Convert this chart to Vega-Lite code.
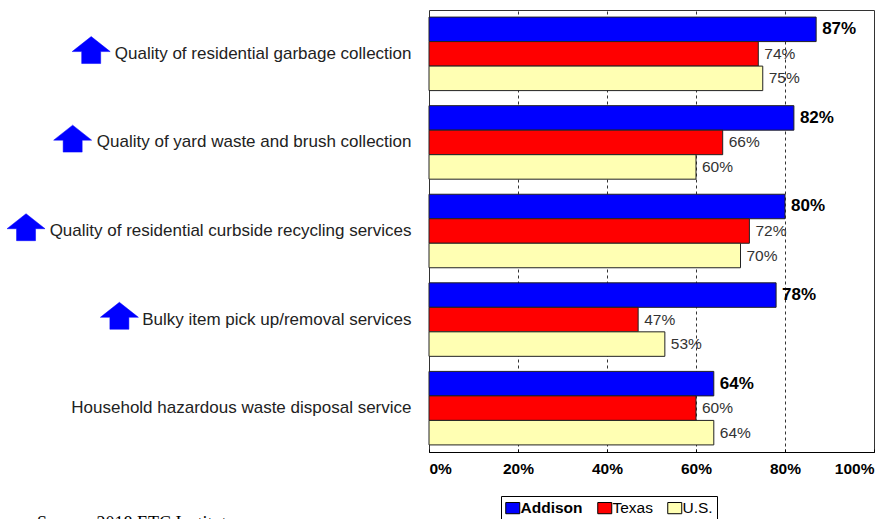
{
  "$schema": "https://vega.github.io/schema/vega-lite/v6.json",
  "width": 445,
  "height": 442,
  "autosize": {"type": "none"},
  "padding": {"left": 429, "top": 10, "right": 21, "bottom": 67},
  "background": "white",
  "config": {
    "font": "Liberation Sans",
    "view": {"stroke": "#333", "strokeWidth": 1}
  },
  "title": {
    "text": "Source:  2018 ETC Institute",
    "orient": "bottom",
    "anchor": "start",
    "frame": "group",
    "font": "Liberation Serif",
    "fontSize": 18,
    "fontWeight": "normal",
    "color": "#000",
    "dx": -392,
    "offset": 0,
    "dy": -7
  },
  "data": {
    "values": [
      {"item": "Quality of residential garbage collection", "series": "Addison", "value": 0.87, "improved": true},
      {"item": "Quality of residential garbage collection", "series": "Texas", "value": 0.74, "improved": true},
      {"item": "Quality of residential garbage collection", "series": "U.S.", "value": 0.75, "improved": true},
      {"item": "Quality of yard waste and brush collection", "series": "Addison", "value": 0.82, "improved": true},
      {"item": "Quality of yard waste and brush collection", "series": "Texas", "value": 0.66, "improved": true},
      {"item": "Quality of yard waste and brush collection", "series": "U.S.", "value": 0.60, "improved": true},
      {"item": "Quality of residential curbside recycling services", "series": "Addison", "value": 0.80, "improved": true},
      {"item": "Quality of residential curbside recycling services", "series": "Texas", "value": 0.72, "improved": true},
      {"item": "Quality of residential curbside recycling services", "series": "U.S.", "value": 0.70, "improved": true},
      {"item": "Bulky item pick up/removal services", "series": "Addison", "value": 0.78, "improved": true},
      {"item": "Bulky item pick up/removal services", "series": "Texas", "value": 0.47, "improved": true},
      {"item": "Bulky item pick up/removal services", "series": "U.S.", "value": 0.53, "improved": true},
      {"item": "Household hazardous waste disposal service", "series": "Addison", "value": 0.64, "improved": false},
      {"item": "Household hazardous waste disposal service", "series": "Texas", "value": 0.60, "improved": false},
      {"item": "Household hazardous waste disposal service", "series": "U.S.", "value": 0.64, "improved": false}
    ]
  },
  "encoding": {
    "y": {
      "field": "item",
      "type": "nominal",
      "sort": [
        "Quality of residential garbage collection",
        "Quality of yard waste and brush collection",
        "Quality of residential curbside recycling services",
        "Bulky item pick up/removal services",
        "Household hazardous waste disposal service"
      ],
      "scale": {"paddingInner": 0.17, "paddingOuter": 0.08},
      "axis": {
        "title": null,
        "labelFontSize": 17,
        "labelColor": "#222",
        "labelPadding": 18,
        "labelLimit": 600,
        "ticks": false,
        "domain": false
      }
    },
    "x": {
      "field": "value",
      "type": "quantitative",
      "scale": {"domain": [0, 1]},
      "axis": {
        "title": null,
        "values": [0, 0.2, 0.4, 0.6, 0.8, 1],
        "format": ".0%",
        "labelFontWeight": "bold",
        "labelFontSize": 15.5,
        "labelColor": "#000",
        "labelPadding": 12,
        "ticks": true,
        "tickSize": -3,
        "tickColor": "#000",
        "domainColor": "#000",
        "grid": true,
        "gridDash": [3, 3],
        "gridColor": "#333",
        "gridWidth": 1
      }
    }
  },
  "layer": [
    {
      "mark": {"type": "bar", "stroke": "#222", "strokeWidth": 1},
      "encoding": {
        "yOffset": {"field": "series", "sort": ["Addison", "Texas", "U.S."]},
        "color": {
          "field": "series",
          "type": "nominal",
          "scale": {"domain": ["Addison", "Texas", "U.S."], "range": ["#0000FF", "#FF0000", "#FFFFB3"]},
          "legend": {
            "orient": "none",
            "legendX": 72,
            "legendY": 486,
            "direction": "horizontal",
            "title": null,
            "symbolType": "M-1,-0.8H1V0.8H-1Z",
            "symbolSize": 196,
            "symbolStrokeColor": "#000",
            "symbolStrokeWidth": 1,
            "symbolOpacity": 1,
            "labelFontSize": 15.5,
            "labelColor": "#000",
            "labelOffset": 0,
            "labelFontWeight": {"expr": "datum.label == 'Addison' ? 'bold' : 'normal'"},
            "strokeColor": "#000",
            "padding": 4,
            "columnPadding": 12
          }
        }
      }
    },
    {
      "transform": [{"filter": "datum.series == 'Addison'"}],
      "mark": {"type": "text", "align": "left", "baseline": "middle", "dx": 6, "fontSize": 17, "fontWeight": "bold", "color": "#000"},
      "encoding": {
        "yOffset": {"field": "series", "sort": ["Addison", "Texas", "U.S."]},
        "text": {"field": "value", "type": "quantitative", "format": ".0%"}
      }
    },
    {
      "transform": [{"filter": "datum.series != 'Addison'"}],
      "mark": {"type": "text", "align": "left", "baseline": "middle", "dx": 6, "fontSize": 15.5, "color": "#333"},
      "encoding": {
        "yOffset": {"field": "series", "sort": ["Addison", "Texas", "U.S."]},
        "text": {"field": "value", "type": "quantitative", "format": ".0%"}
      }
    },
    {
      "transform": [{"filter": "datum.improved && datum.series == 'Addison'"}],
      "mark": {
        "type": "point",
        "shape": "M0,-0.91L1,-0.12L0.5,-0.12L0.5,0.51L-0.5,0.51L-0.5,-0.12L-1,-0.12Z",
        "size": 1444,
        "filled": true,
        "fill": "#0000FF",
        "stroke": "#0000FF",
        "strokeWidth": 0.5,
        "opacity": 1
      },
      "encoding": {
        "x": {"value": {"expr": "-(41.5 + 17 * (0.556 * length(datum.item) - 0.334 * (length(datum.item) - length(replace(datum.item, regexp('[il]', 'g'), ''))) - 0.278 * (length(datum.item) - length(replace(datum.item, regexp('[tf /]', 'g'), ''))) - 0.223 * (length(datum.item) - length(replace(datum.item, regexp('r', 'g'), ''))) - 0.056 * (length(datum.item) - length(replace(datum.item, regexp('[cksvyzx]', 'g'), ''))) + 0.2 * (length(datum.item) - length(replace(datum.item, regexp('[wmQBH]', 'g'), '')))))"}}
      }
    }
  ]
}
